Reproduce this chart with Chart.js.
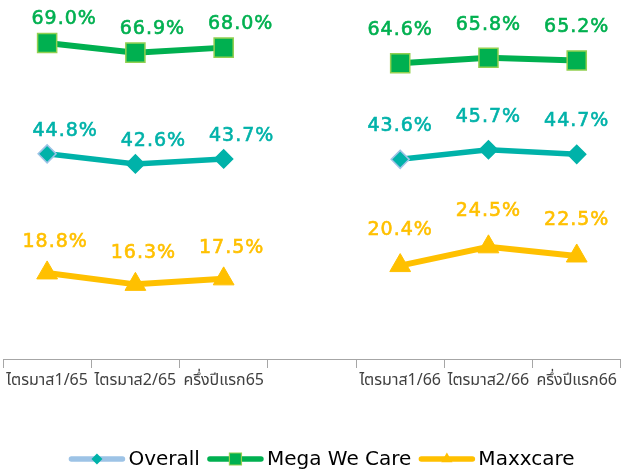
<!DOCTYPE html>
<html>
<head>
<meta charset="utf-8">
<script src="https://cdn.jsdelivr.net/npm/chart.js@4"></script>
<style>
  html, body { margin: 0; padding: 0; background: #fff; }
  #wrap { width: 621px; height: 469px; }
</style>
</head>
<body>
<div id="wrap"><canvas id="myChart"></canvas></div>
<script>
const categories = ['ไตรมาส1/65', 'ไตรมาส2/65', 'ครึ่งปีแรก65', '', 'ไตรมาส1/66', 'ไตรมาส2/66', 'ครึ่งปีแรก66'];
const overall = [44.8, 42.6, 43.7, null, 43.6, 45.7, 44.7];
const megaWeCare = [69.0, 66.9, 68.0, null, 64.6, 65.8, 65.2];
const maxxcare = [18.8, 16.3, 17.5, null, 20.4, 24.5, 22.5];

const teal = '#00B2A9'
const green = '#00B050'
const yellow = '#FFC000'

// small marker drawn in the legend line sample
const drawMarker = (c, style, x, y, r, fill, stroke) => {
  c.beginPath()
  if (style === 'rectRot') {
    c.moveTo(x - r, y); c.lineTo(x, y - r); c.lineTo(x + r, y); c.lineTo(x, y + r)
  } else if (style === 'rect') {
    const s = r * Math.SQRT1_2
    c.rect(x - s, y - s, 2 * s, 2 * s)
  } else {
    c.moveTo(x, y - r)
    c.lineTo(x + r * 0.866, y + r / 2)
    c.lineTo(x - r * 0.866, y + r / 2)
  }
  c.closePath()
  c.fillStyle = fill
  c.fill()
  if (stroke) { c.strokeStyle = stroke; c.lineWidth = 1.2; c.stroke() }
}

const legendItems = [
  { text: 'Overall', line: '#9DC3E6', style: 'rectRot', r: 5.5, fill: teal, stroke: null },
  { text: 'Mega We Care', line: green, style: 'rect', r: 8.5, fill: green, stroke: '#92D050' },
  { text: 'Maxxcare', line: yellow, style: 'triangle', r: 6.5, fill: yellow, stroke: null }
]

const customLegend = {
  id: 'customLegend',
  afterDraw(chart) {
    const c = chart.ctx
    c.save()
    c.font = '20px "DejaVu Sans"'
    const sampleW = 57, gap = 3, itemGap = 7
    let total = 0
    legendItems.forEach((it, i) => {
      total += sampleW + gap + c.measureText(it.text).width + (i < legendItems.length - 1 ? itemGap : 0)
    })
    let x = chart.width / 2 + 11 - total / 2
    const y = 459
    legendItems.forEach(it => {
      c.strokeStyle = it.line
      c.lineWidth = 5.5
      c.lineCap = 'round'
      c.beginPath()
      c.moveTo(x + 3, y)
      c.lineTo(x + sampleW - 3, y)
      c.stroke()
      drawMarker(c, it.style, x + sampleW / 2, y, it.r, it.fill, it.stroke)
      x += sampleW + gap
      c.fillStyle = '#000'
      c.textBaseline = 'middle'
      c.textAlign = 'left'
      c.fillText(it.text, x, y + 1)
      x += c.measureText(it.text).width + itemGap
    })
    c.restore()
  }
}

// label offsets from the point: [left half, right half] per dataset
const labelShift = [
  [{ dx: 18, dy: 23 }, { dx: 0, dy: 33 }],
  [{ dx: 17, dy: 24 }, { dx: 0, dy: 33 }],
  [{ dx: 8, dy: 31 }, { dx: 0, dy: 36 }]
]

const valueLabels = {
  id: 'valueLabels',
  afterDatasetsDraw(chart) {
    const c = chart.ctx
    c.save()
    c.font = '19px "DejaVu Sans"'
    c.letterSpacing = '1px'
    c.textAlign = 'center'
    c.textBaseline = 'middle'
    c.lineWidth = 0.6
    chart.data.datasets.forEach((ds, di) => {
      const meta = chart.getDatasetMeta(di)
      meta.data.forEach((pt, i) => {
        const v = ds.data[i]
        if (v === null) return
        const s = labelShift[di][i < 3 ? 0 : 1]
        const txt = v.toFixed(1) + '%'
        c.fillStyle = ds.borderColor
        c.strokeStyle = ds.borderColor
        c.fillText(txt, pt.x + s.dx, pt.y - s.dy)
        c.strokeText(txt, pt.x + s.dx, pt.y - s.dy)
      })
    })
    c.restore()
  }
}

const ctx = document.getElementById('myChart')

const myChart = new Chart(ctx, {
  type: 'line',
  data: {
    labels: categories,
    datasets: [
      {
        label: 'Overall',
        data: overall,
        borderColor: teal,
        borderWidth: 5.5,
        pointStyle: 'rectRot',
        pointRadius: 9,
        pointBackgroundColor: teal,
        pointBorderColor: ['#9DC3E6', teal, teal, teal, '#9DC3E6', teal, teal],
        pointBorderWidth: 1.5
      },
      {
        label: 'Mega We Care',
        data: megaWeCare,
        borderColor: green,
        borderWidth: 6,
        pointStyle: 'rect',
        pointRadius: 13.5,
        pointBackgroundColor: green,
        pointBorderColor: '#92D050',
        pointBorderWidth: 1.5
      },
      {
        label: 'Maxxcare',
        data: maxxcare,
        borderColor: yellow,
        borderWidth: 6,
        pointStyle: 'triangle',
        pointRadius: 12,
        pointBackgroundColor: yellow,
        pointBorderColor: yellow,
        pointBorderWidth: 1
      }
    ]
  },
  options: {
    responsive: true,
    maintainAspectRatio: false,
    animation: false,
    spanGaps: false,
    layout: { autoPadding: false, padding: { left: 3, right: 0, top: 0, bottom: 70 } },
    plugins: {
      legend: { display: false },
      tooltip: { enabled: false }
    },
    scales: {
      x: {
        offset: true,
        afterFit: (scale) => { scale.height = 40 },
        border: { color: '#A6A6A6', width: 1 },
        grid: {
          offset: true,
          drawOnChartArea: false,
          drawTicks: true,
          tickLength: 9,
          color: '#A6A6A6'
        },
        ticks: {
          autoSkip: false,
          maxRotation: 0,
          minRotation: 0,
          padding: 4,
          color: '#404040',
          font: { family: '"Noto Sans Thai", "Noto Sans", sans-serif', size: 16 }
        }
      },
      y: {
        display: false,
        min: 0,
        max: 78.4
      }
    }
  },
  plugins: [valueLabels, customLegend]
});
</script>
</body>
</html>
